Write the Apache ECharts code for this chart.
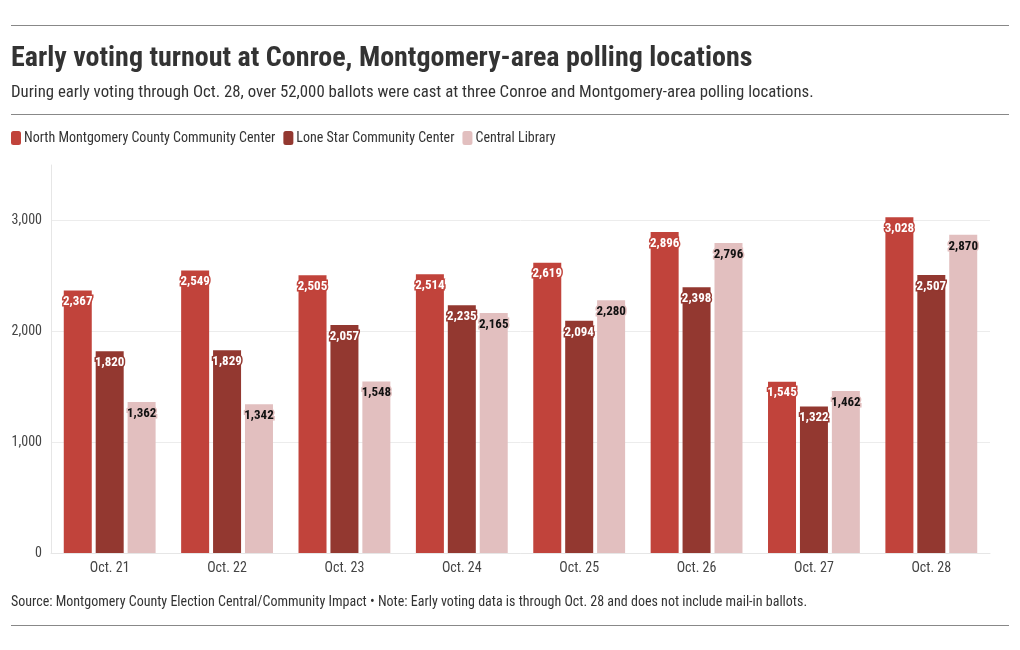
<!DOCTYPE html>
<html><head><meta charset="utf-8">
<script src="https://cdn.jsdelivr.net/npm/echarts@6/dist/echarts.min.js"></script>
<style>html,body{margin:0;padding:0;background:#fff}#c{width:1020px;height:650px}</style>
</head><body><div id="c"></div>
<script>
const categories = ['Oct. 21','Oct. 22','Oct. 23','Oct. 24','Oct. 25','Oct. 26','Oct. 27','Oct. 28'];
const seriesNames = ['North Montgomery County Community Center','Lone Star Community Center','Central Library'];
const northMontgomery = [2367,2549,2505,2514,2619,2896,1545,3028];
const loneStar = [1820,1829,2057,2235,2094,2398,1322,2507];
const centralLibrary = [1362,1342,1548,2165,2280,2796,1462,2870];
const yTicks = [0,1000,2000,3000];
const colors = ['#c1433b','#933830','#e2bfbf'];
const labelColors = ['#fff','#fff','#111'];
const FONT = '"Roboto Condensed","Liberation Sans Narrow","Roboto",sans-serif';

const chart = echarts.init(document.getElementById('c'));
const data = [northMontgomery, loneStar, centralLibrary];
const series = data.map((d,i)=>({
  name: seriesNames[i], type:'bar', data:d, barWidth:28, barGap:'14%',
  itemStyle:{color:colors[i]},
  label:{show:true, position:'insideTop', distance:5, fontFamily:FONT, fontSize:13, fontWeight:'bold',
    color:labelColors[i], textBorderColor:colors[i], textBorderWidth:3,
    formatter:p=>p.value.toLocaleString('en-US')}
}));
chart.setOption({
  animation:false,
  textStyle:{fontFamily:FONT},
  title:{text:'Early voting turnout at Conroe, Montgomery-area polling locations',
    subtext:'During early voting through Oct. 28, over 52,000 ballots were cast at three Conroe and Montgomery-area polling locations.',
    left:6, top:40, itemGap:11,
    textStyle:{fontFamily:FONT,fontSize:28,fontWeight:'bold',color:'#333'},
    subtextStyle:{fontFamily:FONT,fontSize:16.8,color:'#333'}},
  legend:{left:6, top:126, icon:'roundRect', itemWidth:10, itemHeight:14, itemGap:8,
    textStyle:{fontFamily:FONT,fontSize:14,color:'#333', padding:[0,0,0,-2]}},
  grid:{left:51, right:30, top:165, bottom:97},
  xAxis:{type:'category', data:categories,
    axisLine:{lineStyle:{color:'#e6e6e6'}},
    axisTick:{alignWithLabel:true, length:5, lineStyle:{color:'#e6e6e6'}},
    axisLabel:{fontFamily:FONT,fontSize:14,color:'#444',margin:8}},
  yAxis:{type:'value', min:0, max:3500, interval:1000,
    axisLine:{show:true, lineStyle:{color:'#e6e6e6'}},
    axisTick:{show:false},
    splitLine:{showMaxLine:false, lineStyle:{color:'#ececec'}},
    axisLabel:{fontFamily:FONT,fontSize:14,color:'#444',margin:9,
      formatter:v=>yTicks.includes(v)?v.toLocaleString('en-US'):''}},
  graphic:[
    {type:'line', shape:{x1:11,y1:25.5,x2:1009,y2:25.5}, style:{stroke:'#888',lineWidth:1}},
    {type:'line', shape:{x1:11,y1:114.5,x2:1009,y2:114.5}, style:{stroke:'#888',lineWidth:1}},
    {type:'line', shape:{x1:11,y1:625.5,x2:1009,y2:625.5}, style:{stroke:'#888',lineWidth:1}},
    {type:'text', left:11, top:595, style:{text:'Source: Montgomery County Election Central/Community Impact • Note: Early voting data is through Oct. 28 and does not include mail-in ballots.',
      font:'14px '+FONT, fill:'#333'}}
  ],
  series
});
</script></body></html>
